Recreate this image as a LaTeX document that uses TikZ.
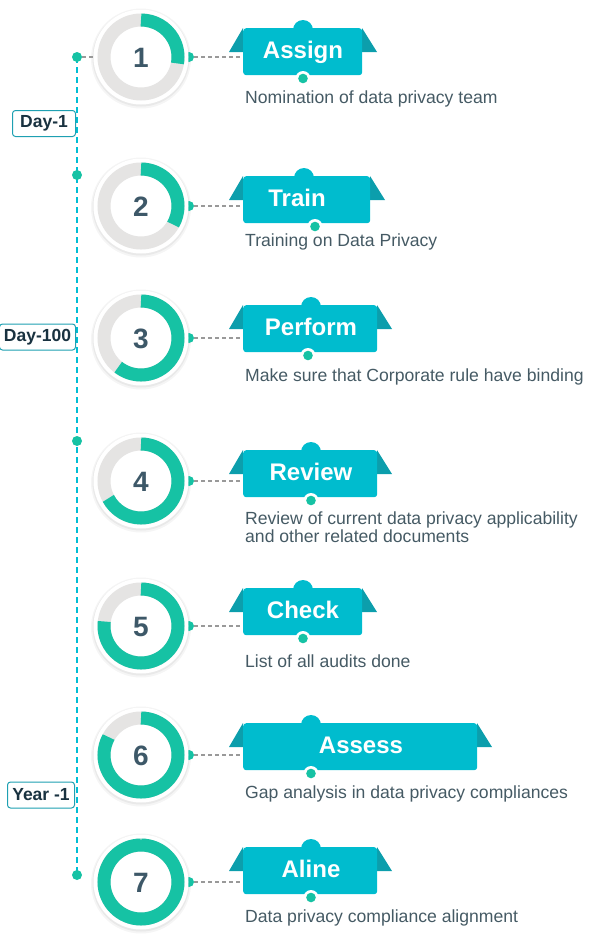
\documentclass[tikz,border=0pt]{standalone}
\usepackage{fontspec}
\setmainfont{Liberation Sans}
\usetikzlibrary{calc}
\definecolor{ringgreen}{RGB}{22,194,164}
\definecolor{ringgrey}{RGB}{229,228,227}
\definecolor{numcol}{RGB}{61,88,104}
\definecolor{desccol}{RGB}{69,90,100}
\definecolor{ribcol}{RGB}{0,188,206}
\definecolor{flapcol}{RGB}{12,158,172}
\definecolor{tlcol}{RGB}{0,190,212}
\definecolor{labcol}{RGB}{25,50,64}
\definecolor{labborder}{RGB}{30,160,178}
\newcommand\mystep[9]{%
  \fill[black, opacity=0.04] (141,#2+1.5) circle (50);
  \fill[black, opacity=0.05] (141,#2+1) circle (48.5);
  \node[hdot] (h#1) at (189,#2) {};
  \node[disk] (c#1) at (141,#2) {};
  \draw[ringgrey, line width=13pt] (c#1.center) circle (37);
  \draw[ringgreen, line width=13pt] (c#1.center) ++(-90:37) arc[start angle=-90, delta angle=#3, radius=37];
  \node[num] (n#1) at (141,#2+10.5) {#1};
  \fill[flapcol] (243,#5-22) -- (229,#5+2) -- (243,#5+2) -- cycle;
  \fill[flapcol] (#4,#5-22) -- (#4+15,#5+2) -- (#4,#5+2) -- cycle;
  \node[rib, minimum width=#4-243] (r#1) at (243,#5-22) {};
  \fill[ribcol] (#6,#5-20) circle (10);
  \fill[white] (#7,#5+28.5) circle (7.5);
  \fill[ringgreen] (#7,#5+28.5) circle (4.8);
  \node[title] (t#1) at (#8,#5+8) {#9};
  \draw[conn] (h#1.east) -- (h#1.east -| r#1.west);
}
\begin{document}
\begin{tikzpicture}[x=1pt,y=-1pt,
  disk/.style={circle, fill=white, minimum size=95pt, inner sep=0pt},
  hdot/.style={circle, fill=ringgreen, minimum size=10pt, inner sep=0pt},
  tdot/.style={circle, fill=ringgreen, minimum size=10pt, inner sep=0pt},
  conn/.style={draw=gray!80, dash pattern=on 4pt off 3pt, line width=1.1pt},
  tline/.style={draw=tlcol, dash pattern=on 6pt off 4pt, line width=1.4pt},
  rib/.style={fill=ribcol, rounded corners=3pt, inner sep=0pt, minimum height=47pt, anchor=north west},
  title/.style={text=white, font=\fontsize{24}{28}\selectfont\bfseries, anchor=base, inner sep=0pt},
  num/.style={text=numcol, font=\fontsize{28}{32}\selectfont\bfseries, anchor=base, inner sep=0pt},
  desc/.style={text=desccol, font=\fontsize{17.6}{18}\selectfont, anchor=base west, inner sep=0pt, align=left},
  daylab/.style={draw=labborder, line width=1pt, rounded corners=3pt, fill=white, text=labcol, font=\fontsize{17.5}{20}\selectfont\bfseries, minimum height=26pt, inner sep=0pt, anchor=east}
]
\useasboundingbox (0,0) rectangle (589,940);
% timeline
\coordinate (ta) at (77,57);
\coordinate (tb) at (77,875);
\draw[tline] (ta) -- (tb);
\node[tdot] (d1) at (77,57) {};
\node[tdot] (d2) at (77,175) {};
\node[tdot] (d3) at (77,441) {};
\node[tdot] (d4) at (77,875) {};
% labels
\node[daylab, minimum width=63pt] (l1) at (76,123.5) {Day-1};
\node[daylab, minimum width=76pt] (l2) at (76,337) {Day-100};
\node[daylab, minimum width=67pt] (l3) at (75,795) {Year -1};
% steps
\mystep{1}{57}{100}{362}{50}{303}{303}{303}{Assign}
\mystep{2}{206}{120}{370}{198}{304}{315}{297}{Train}
\mystep{3}{338}{218}{377}{327}{311}{308}{311}{Perform}
\mystep{4}{481}{242}{377}{472}{311}{311}{311}{Review}
\mystep{5}{626}{277}{362}{610}{303}{303}{303}{Check}
\mystep{6}{755}{299}{477}{745}{311}{311}{361}{Assess}
\mystep{7}{882}{360}{377}{869}{311}{311}{311}{Aline}
\draw[conn] (d1) -- (c1.west);
% descriptions
\node[desc] (e1) at (245,103) {Nomination of data privacy team};
\node[desc] (e2) at (245,246) {Training on Data Privacy};
\node[desc] (e3) at (245,381) {Make sure that Corporate rule have binding};
\node[desc] (e4) at (245,542) {Review of current data privacy applicability\\and other related documents};
\node[desc] (e5) at (245,667) {List of all audits done};
\node[desc] (e6) at (245,798) {Gap analysis in data privacy compliances};
\node[desc] (e7) at (245,922) {Data privacy compliance alignment};
\end{tikzpicture}
\end{document}
